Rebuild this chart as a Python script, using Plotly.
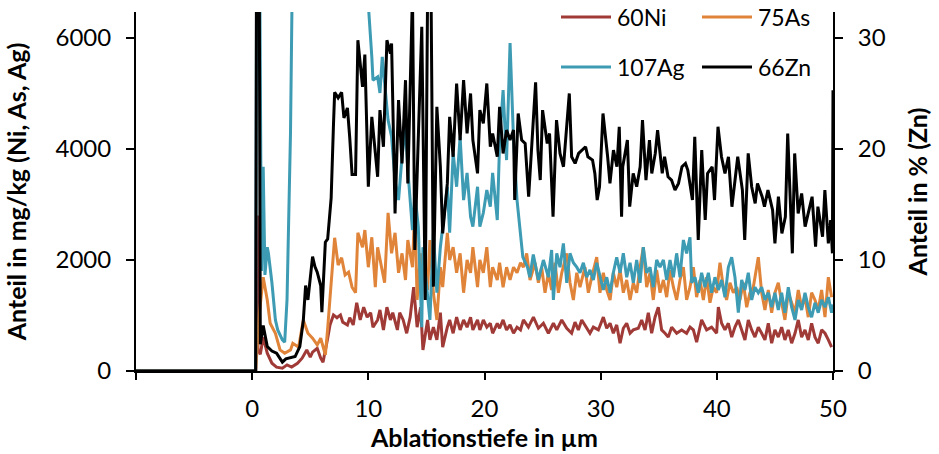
import plotly.graph_objects as go

# Depth profiles (µm) and concentrations from the LA-ICP-MS line scan
ni_depth = [-10, 0.3, 0.45, 0.5, 0.7, 0.95, 1.3, 1.7, 2.1, 2.6, 3.0, 3.4, 3.9, 4.3, 4.7, 5.0, 5.2, 5.6, 5.9, 6.1,
            6.5, 6.7, 7.0, 7.3, 7.6, 7.8, 8.2, 8.4, 8.7, 9.0, 9.3, 9.6, 9.9, 10.2, 10.4, 10.8, 11.0, 11.3, 11.6,
            11.9, 12.1, 12.5, 12.7, 13.0, 13.3, 13.6, 13.9, 14.2, 14.5, 14.7, 15.1, 15.3, 15.6, 15.9, 16.2, 16.4,
            16.8, 17.0, 17.3, 17.6, 17.9, 18.2, 18.5, 18.8, 19.0, 19.4, 19.6, 19.9, 20.2, 20.5, 20.7, 21.1, 21.3,
            21.6, 21.9, 22.2, 22.5, 22.8, 23.1, 23.35, 23.78, 24.21, 24.64, 25.07, 25.5, 25.93, 26.22, 26.65,
            27.08, 27.5, 27.79, 28.08, 28.37, 28.8, 29.08, 29.37, 29.8, 30.23, 30.52, 30.81, 31.09, 31.38, 31.67,
            31.95, 32.24, 32.53, 32.81, 33.24, 33.53, 33.82, 34.1, 34.39, 34.68, 34.96, 35.25, 35.54, 35.82,
            36.11, 36.54, 36.97, 37.4, 37.69, 37.98, 38.26, 38.69, 39.12, 39.55, 39.98, 40.13, 40.41, 40.7,
            40.99, 41.28, 41.56, 41.85, 42.14, 42.42, 42.71, 43.0, 43.28, 43.57, 43.86, 44.14, 44.43, 44.72,
            45.0, 45.29, 45.58, 45.86, 46.15, 46.44, 46.73, 47.01, 47.3, 47.59, 47.87, 48.16, 48.45, 48.73,
            49.02, 49.31, 49.6, 49.88]
ni_mgkg = [0, 0, 2800, 380, 300, 610, 320, 140, 70, 50, 110, 70, 140, 230, 380, 250, 340, 410, 230, 160,
           590, 830, 1010, 960, 1010, 880, 830, 960, 830, 1230, 920, 1150, 970, 1050, 790, 920, 1100, 740, 1150,
           920, 1050, 740, 1050, 920, 680, 970, 1510, 790, 1150, 380, 920, 560, 790, 560, 1050, 430,
           790, 920, 680, 970, 740, 920, 790, 970, 740, 920, 740, 920, 790, 860, 680, 860, 770,
           920, 740, 830, 680, 790, 740, 920, 790, 970, 770, 860, 680, 860, 740, 920,
           770, 680, 880, 740, 920, 770, 680, 790, 740, 970, 770, 860, 680, 830, 500,
           770, 860, 680, 740, 770, 920, 740, 1050, 680, 970, 1150, 740, 680, 610,
           790, 680, 740, 680, 790, 740, 520, 920, 740, 790, 680, 1150, 860, 740,
           860, 610, 790, 920, 740, 560, 920, 740, 610, 790, 680, 560, 860, 500,
           740, 610, 790, 560, 740, 500, 680, 920, 610, 740, 560, 860, 610, 500,
           740, 680, 560, 430]

as_depth = [-10, 0.3, 0.6, 0.95, 1.3, 1.55, 2.0, 2.4, 2.8, 3.3, 3.5, 4.0, 4.4, 4.8, 5.2, 5.6, 5.9, 6.3, 6.5,
            6.9, 7.1, 7.4, 7.7, 8.0, 8.3, 8.6, 8.9, 9.1, 9.5, 9.7, 10.0, 10.3, 10.6, 10.8, 11.2, 11.4, 11.7,
            12.0, 12.3, 12.6, 12.9, 13.2, 13.4, 13.8, 14.0, 14.2, 14.5, 14.7, 15.1, 15.3, 15.6, 15.9, 16.2,
            16.4, 16.8, 17.0, 17.3, 17.6, 17.9, 18.2, 18.5, 18.8, 19.0, 19.4, 19.6, 19.9, 20.2, 20.5, 20.7,
            21.1, 21.3, 21.6, 21.9, 22.2, 22.5, 22.8, 23.1, 23.35, 23.63, 23.92, 24.35, 24.64, 24.92, 25.21,
            25.5, 25.78, 26.07, 26.36, 26.65, 27.08, 27.36, 27.65, 27.94, 28.22, 28.65, 28.94, 29.23, 29.66,
            29.94, 30.23, 30.52, 30.81, 31.09, 31.38, 31.67, 31.95, 32.24, 32.53, 32.81, 33.1, 33.39, 33.67,
            33.96, 34.25, 34.53, 34.82, 35.11, 35.4, 35.68, 35.97, 36.26, 36.54, 36.83, 37.12, 37.4, 37.69,
            37.98, 38.26, 38.55, 38.84, 39.12, 39.41, 39.7, 39.98, 40.27, 40.56, 40.84, 41.13, 41.42, 41.71,
            41.99, 42.28, 42.57, 42.85, 43.14, 43.57, 43.86, 44.14, 44.43, 44.72, 45.0, 45.29, 45.58, 45.86,
            46.15, 46.44, 46.73, 47.01, 47.3, 47.59, 47.87, 48.16, 48.45, 48.73, 49.02, 49.31, 49.6, 49.88]
as_mgkg = [0, 0, 1000, 1690, 1280, 860, 680, 380, 320, 380, 500, 430, 920, 680, 590, 470, 590, 290, 770,
           1780, 2400, 1910, 2040, 1730, 1780, 1510, 1410, 2490, 2230, 2540, 1870, 2410, 1510, 2230, 1770, 1590, 2850,
           2120, 2490, 1770, 2120, 1640, 2360, 1870, 2960, 1280, 2120, 1770, 1460, 2360, 1410, 920, 1870,
           1510, 2490, 2000, 2230, 1770, 2120, 1410, 2000, 1770, 2230, 1510, 2000, 1770, 2230, 1510, 1870,
           1640, 1950, 1510, 1870, 1640, 1870, 1770, 1950, 1870, 2120, 1640, 1950, 1590, 1870, 1410,
           1770, 1460, 1950, 1410, 1770, 2120, 1590, 1280, 1770, 1510, 1870, 1410, 1690, 2050,
           1410, 1770, 1460, 1280, 1770, 1510, 1820, 1410, 1640, 1280, 1590, 1410, 1870, 2230,
           1510, 1770, 1280, 1820, 1410, 1640, 1330, 1820, 1510, 1280, 1640, 1870, 1280, 1510,
           1870, 1330, 1640, 1280, 1690, 1230, 1510, 1410, 1950, 1510, 1280, 1590, 1410, 1510,
           1280, 1590, 1150, 1410, 1510, 2050, 1410, 1100, 1460, 1050, 1410, 1590, 1230, 920,
           1410, 1230, 1050, 1460, 1150, 1330, 970, 1410, 1280, 1100, 1460, 970, 1690, 1330]

ag_depth = [-10, 0.3, 0.4, 0.6, 0.8, 0.95, 1.1, 1.3, 1.4, 1.7, 2.0, 2.2, 2.6, 2.8, 3.0, 3.3, 3.45, 3.6, 9.9,
            10.0, 10.3, 10.4, 10.8, 11.0, 11.2, 11.4, 11.7, 12.0, 12.3, 12.6, 12.9, 13.2, 13.4, 13.8, 14.0, 14.3,
            14.6, 14.7, 15.1, 15.3, 15.6, 15.9, 16.2, 16.4, 16.8, 17.0, 17.3, 17.6, 17.9, 18.2, 18.5, 18.8,
            19.0, 19.4, 19.6, 19.9, 20.2, 20.5, 20.7, 21.1, 21.3, 21.6, 21.9, 22.2, 22.5, 22.8, 23.1, 23.3,
            23.7, 23.9, 24.2, 24.64, 25.07, 25.5, 25.78, 25.93, 26.22, 26.5, 26.79, 27.08, 27.36, 27.65,
            27.94, 28.22, 28.51, 28.8, 29.08, 29.37, 29.66, 29.94, 30.23, 30.52, 30.81, 31.09, 31.38, 31.67,
            31.95, 32.24, 32.53, 32.81, 33.1, 33.39, 33.67, 33.96, 34.25, 34.53, 34.82, 35.11, 35.4, 35.68,
            35.97, 36.26, 36.54, 36.83, 37.12, 37.4, 37.69, 37.83, 38.12, 38.41, 38.69, 38.98, 39.27, 39.55,
            39.84, 40.13, 40.41, 40.7, 40.99, 41.28, 41.56, 41.85, 42.14, 42.42, 42.71, 43.0, 43.28, 43.57,
            43.86, 44.14, 44.43, 44.72, 45.0, 45.29, 45.58, 45.86, 46.15, 46.44, 46.73, 47.01, 47.3, 47.59,
            47.87, 48.16, 48.45, 48.73, 49.02, 49.31, 49.6, 49.88, 50.0]
ag_mgkg = [0, 0, 9000, 9000, 1800, 3680, 1730, 2230, 2120, 1590, 920, 740, 560, 520, 1280, 4290, 7000, 9000, 9000,
           6600, 5660, 5240, 5300, 5010, 5660, 5190, 4520, 4220, 3440, 3080, 3860, 4400, 3620, 2540, 3210, 2600,
           790, 2230, 1280, 920, 2490, 1410, 2230, 2600, 3320, 2490, 3930, 3320, 4220, 3080, 3570, 2780,
           2600, 3320, 2600, 2850, 3260, 2960, 3570, 2720, 4110, 5060, 3800, 5910, 4160, 3080, 2490, 2050,
           1870, 1690, 2100, 1640, 2000, 1690, 2180, 1280, 2120, 1870, 2300, 1590, 2120, 1950,
           1870, 1770, 1950, 1690, 1820, 1640, 1950, 1690, 1460, 1690, 1410, 1770, 2050, 1770,
           2120, 1690, 1950, 1590, 2000, 1590, 2230, 1770, 1870, 1510, 2000, 1870, 2000, 1640,
           2000, 1690, 2120, 1690, 2360, 2120, 2410, 1590, 1690, 1410, 1770, 1510, 1770, 1410,
           1690, 1460, 1640, 1330, 1870, 2050, 1690, 1050, 1640, 1460, 1770, 1280, 1510, 1410,
           1510, 1280, 1410, 1150, 1410, 1100, 1410, 1050, 1510, 1150, 920, 1280, 1100, 1410,
           1150, 970, 1230, 1050, 1280, 1150, 1330, 1050, 1200]

zn_depth = [-10, 0.3, 0.38, 0.6, 0.7, 0.95, 1.3, 1.7, 2.1, 2.6, 2.9, 3.3, 3.7, 4.1, 4.4, 4.6, 4.8, 5.2, 5.4,
            5.6, 5.9, 6.0, 6.3, 6.5, 6.8, 7.0, 7.1, 7.4, 7.7, 7.9, 8.2, 8.4, 8.6, 8.9, 9.1, 9.5, 9.7, 10.0,
            10.3, 10.8, 11.0, 11.3, 11.6, 11.9, 12.0, 12.3, 12.6, 12.9, 13.2, 13.4, 13.8, 14.0, 14.3, 14.6,
            14.9, 15.1, 15.4, 15.6, 15.9, 16.2, 16.4, 16.8, 17.0, 17.3, 17.6, 17.9, 18.2, 18.5, 18.8, 19.0,
            19.4, 19.6, 19.9, 20.2, 20.5, 20.7, 21.1, 21.3, 21.6, 21.9, 22.2, 22.5, 22.6, 22.9, 23.2, 23.5,
            23.8, 24.1, 24.4, 24.6, 24.8, 25.0, 25.4, 25.6, 25.9, 26.2, 26.5, 26.8, 27.1, 27.3, 27.5, 27.8,
            28.1, 28.4, 28.7, 28.9, 29.3, 29.5, 29.7, 29.9, 30.2, 30.6, 30.8, 31.1, 31.4, 31.6, 31.8, 31.9,
            32.3, 32.5, 32.8, 33.1, 33.4, 33.6, 33.9, 34.2, 34.4, 34.7, 34.9, 35.3, 35.5, 35.8, 36.1, 36.4,
            36.7, 37.0, 37.3, 37.5, 37.9, 38.1, 38.4, 38.7, 39.0, 39.2, 39.6, 39.8, 40.1, 40.4, 40.7, 41.0,
            41.3, 41.6, 41.8, 42.2, 42.4, 42.7, 43.0, 43.3, 43.5, 43.9, 44.1, 44.4, 44.8, 45.0, 45.3, 45.6,
            45.9, 46.1, 46.5, 46.7, 47.0, 47.3, 47.6, 47.8, 48.2, 48.5, 48.7, 49.1, 49.3, 49.6, 49.8, 49.95, 50.0]
zn_pct = [0, 0, 40, 40, 2.4, 4.1, 2.2, 1.8, 1.6, 0.8, 1.1, 1.2, 1.3, 2.2, 4.5, 7.7, 6.4, 10.3, 9.4,
          8.9, 7.7, 5.3, 11.6, 11.9, 15.6, 22.2, 25.1, 24.6, 25.1, 22.8, 23.7, 21.0, 17.7, 17.7, 29.8, 25.6, 28.5, 16.6,
          22.9, 17.5, 23.5, 20.2, 29.8, 28.6, 29.5, 14.2, 24.4, 18.7, 26.2, 16.9, 34.0, 10.9, 21.4, 31.0,
          6.4, 34.0, 34.0, 7.6, 23.8, 18.4, 12.4, 16.9, 22.9, 19.3, 25.9, 20.8, 26.2, 21.4, 25.0, 20.8,
          17.8, 23.5, 22.3, 25.9, 20.2, 21.4, 19.3, 23.8, 19.6, 21.7, 20.8, 21.7, 15.4, 23.2, 20.8, 20.5,
          15.7, 20.8, 26.0, 19.9, 17.2, 23.5, 20.5, 21.4, 13.9, 22.6, 19.6, 18.4, 22.0, 25.0, 19.3, 18.7,
          19.6, 19.9, 20.2, 19.3, 19.0, 17.8, 15.4, 16.6, 23.2, 19.3, 16.9, 19.9, 18.4, 22.0, 13.9, 18.4,
          20.8, 14.8, 17.8, 16.6, 18.4, 22.6, 17.2, 20.8, 17.8, 19.6, 21.7, 17.8, 19.3, 17.5, 17.2, 16.3,
          16.9, 18.4, 18.7, 18.1, 15.4, 21.1, 11.8, 19.9, 13.6, 17.8, 18.4, 15.4, 22.0, 19.3, 17.8, 19.3,
          14.8, 17.5, 19.3, 16.3, 11.8, 19.6, 16.6, 15.1, 16.9, 15.7, 14.8, 16.3, 14.5, 11.5, 15.7, 12.4,
          13.9, 21.4, 10.6, 19.6, 14.2, 16.0, 13.0, 13.9, 15.7, 11.2, 14.8, 12.1, 16.3, 11.5, 13.6, 10.6, 25.3]

# Axis scales and tick labels
x_ticks = [-10, 0, 10, 20, 30, 40, 50]
x_ticktext = ["", "0", "10", "20", "30", "40", "50"]
y_left_ticks = [0, 2000, 4000, 6000]
y_right_ticks = [0, 10, 20, 30]
y_left_max = 6468
y_right_max = 32.34

FONT = "Lato"
COL_NI = "#a03a37"
COL_AS = "#e0843a"
COL_AG = "#3d9bb3"
COL_ZN = "#000000"
LW = 3

# plot area in pixels (used to place the hand-built legend)
W, H = 939, 454
L, R, T, B = 136, 106, 12, 83
PW, PH = W - L - R, H - T - B

fig = go.Figure()
fig.add_trace(go.Scatter(x=ni_depth, y=ni_mgkg, name="60Ni", mode="lines",
                         line=dict(color=COL_NI, width=LW)))
fig.add_trace(go.Scatter(x=as_depth, y=as_mgkg, name="75As", mode="lines",
                         line=dict(color=COL_AS, width=LW)))
fig.add_trace(go.Scatter(x=ag_depth, y=ag_mgkg, name="107Ag", mode="lines",
                         line=dict(color=COL_AG, width=LW)))
fig.add_trace(go.Scatter(x=zn_depth, y=zn_pct, name="66Zn", mode="lines", yaxis="y2",
                         line=dict(color=COL_ZN, width=LW)))

# 2 x 2 legend in the upper right corner: (column start px, row centre px)
legend_slots = [(561, 17), (702, 17), (561, 67), (702, 67)]
sample_len = 50
text_gap = 5
for tr, (px, py) in zip(fig.data, legend_slots):
    yp = (H - B - py) / PH
    fig.add_shape(type="line", xref="paper", yref="paper",
                  x0=(px - L) / PW, x1=(px + sample_len - L) / PW, y0=yp, y1=yp,
                  line=dict(color=tr.line.color, width=LW))
    fig.add_annotation(xref="paper", yref="paper", x=(px + sample_len + text_gap - L) / PW, y=yp,
                       text=tr.name, showarrow=False, xanchor="left", yanchor="middle",
                       font=dict(family=FONT, size=23, color="black"), borderpad=0)

axis_common = dict(showgrid=False, zeroline=False, showline=True, linecolor="black", linewidth=2,
                   ticks="outside", tickwidth=2, tickcolor="black",
                   tickfont=dict(family=FONT, size=24, color="black"))
title_font = dict(family=FONT, size=25, color="black")

fig.update_layout(
    width=W, height=H, autosize=False,
    margin=dict(l=L, r=R, t=T, b=B, autoexpand=False),
    paper_bgcolor="white", plot_bgcolor="white",
    showlegend=False,
    xaxis=dict(range=[-10, 50], tickvals=x_ticks, ticktext=x_ticktext, ticklen=7, ticklabelstandoff=8,
               title=dict(text="<b>Ablationstiefe in µm</b>", font=title_font, standoff=4),
               **axis_common),
    yaxis=dict(range=[0, y_left_max], tickvals=y_left_ticks, ticklen=8, ticklabelstandoff=10,
               title=dict(text="<b>Anteil in mg/kg (Ni, As, Ag)</b>", font=title_font, standoff=22),
               **axis_common),
    yaxis2=dict(range=[0, y_right_max], tickvals=y_right_ticks, ticklen=8, ticklabelstandoff=10,
                overlaying="y", side="right",
                title=dict(text="<b>Anteil in % (Zn)</b>", font=title_font, standoff=25),
                **axis_common),
)

fig.write_html("out.html")
